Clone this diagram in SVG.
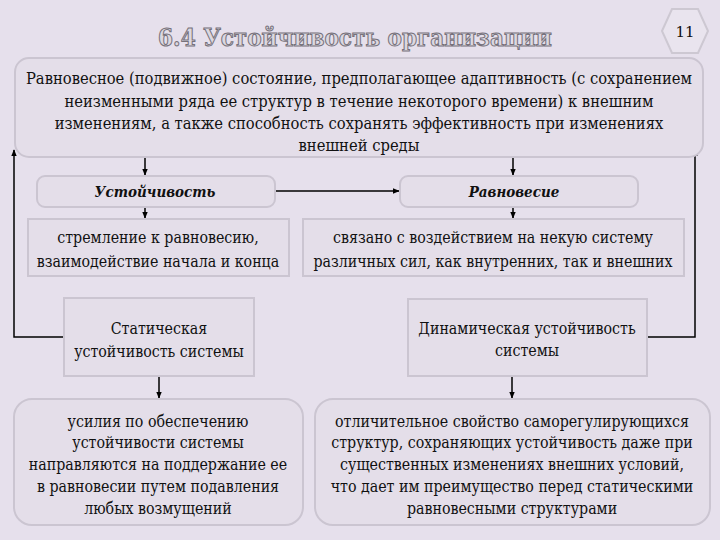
<svg xmlns="http://www.w3.org/2000/svg" width="720" height="540" viewBox="0 0 720 540">
<defs>
<marker id="ah" viewBox="0 0 10 10" refX="9" refY="5" markerWidth="7" markerHeight="7" orient="auto" markerUnits="userSpaceOnUse">
<path d="M0,1 L10,5 L0,9 z" fill="#000"/>
</marker>
<style>
.box{fill:#e4dee9;stroke:#cbc5d1;stroke-width:2}
.t{font-size:15.8px;fill:#111;text-anchor:middle}
.tl{font-size:16.4px;fill:#111;text-anchor:middle}
.h{font-size:15px;font-weight:bold;font-style:italic;fill:#111;text-anchor:middle}
.c{fill:none;stroke:#000;stroke-width:1.5}
</style>
</defs>
<rect width="720" height="540" fill="#e6e0ec"/>
<g id="title">
<text x="355" y="46" font-family="DejaVu Serif Condensed,DejaVu Serif,serif" font-size="24" font-weight="bold" fill="#dcd8e0" stroke="#76717b" stroke-width="1" text-anchor="middle">6.4 Устойчивость организации</text>
</g>
<g id="pagenum">
<polygon points="662,31 672,9 698,9 708,31 698,53 672,53" fill="#e9e4ee" stroke="#cdc8d2" stroke-width="2"/>
<text x="685" y="37" font-family="DejaVu Serif,serif" font-size="15" fill="#111" text-anchor="middle">11</text>
</g>
<g id="connectors">
<line class="c" x1="145" y1="157" x2="145" y2="175" marker-end="url(#ah)"/>
<line class="c" x1="513" y1="157" x2="513" y2="175" marker-end="url(#ah)"/>
<line class="c" x1="276" y1="191" x2="399" y2="191" marker-end="url(#ah)"/>
<line class="c" x1="145" y1="207" x2="145" y2="218" marker-end="url(#ah)"/>
<line class="c" x1="513" y1="207" x2="513" y2="218" marker-end="url(#ah)"/>
<polyline class="c" points="64,337 14,337 14,150" marker-end="url(#ah)"/>
<polyline class="c" points="647,337 695,337 695,150" marker-end="url(#ah)"/>
<line class="c" x1="159" y1="376" x2="159" y2="398" marker-end="url(#ah)"/>
<line class="c" x1="512" y1="376" x2="512" y2="398" marker-end="url(#ah)"/>
</g>
<g font-family="DejaVu Serif Condensed,DejaVu Serif,serif">
<g id="definition">
<rect class="box" x="15" y="58" width="688" height="99" rx="14"/>
<text class="tl" x="359" y="84">Равновесное (подвижное) состояние, предполагающее адаптивность (с сохранением</text>
<text class="tl" x="359" y="107">неизменными ряда ее структур в течение некоторого времени) к внешним</text>
<text class="tl" x="359" y="129">изменениям, а также способность сохранять эффективность при изменениях</text>
<text class="tl" x="359" y="151">внешней среды</text>
</g>
<g id="ustoichivost">
<rect class="box" x="37" y="176" width="238" height="31" rx="8"/>
<text class="h" x="155" y="197">Устойчивость</text>
</g>
<g id="ravnovesie">
<rect class="box" x="400" y="176" width="238" height="31" rx="8"/>
<text class="h" x="514" y="197">Равновесие</text>
</g>
<g id="ustoichivost-desc">
<rect class="box" x="28" y="219" width="261" height="57"/>
<text class="t" x="158" y="243">стремление к равновесию,</text>
<text class="t" x="158" y="267">взаимодействие начала и конца</text>
</g>
<g id="ravnovesie-desc">
<rect class="box" x="303" y="219" width="381" height="57"/>
<text class="t" x="493" y="243">связано с воздействием на некую систему</text>
<text class="t" x="493" y="267">различных сил, как внутренних, так и внешних</text>
</g>
<g id="static">
<rect class="box" x="64" y="298" width="190" height="78"/>
<text class="t" x="159" y="334">Статическая</text>
<text class="t" x="159" y="357">устойчивость системы</text>
</g>
<g id="dynamic">
<rect class="box" x="408" y="299" width="239" height="77"/>
<text class="t" x="527" y="334">Динамическая устойчивость</text>
<text class="t" x="527" y="356">системы</text>
</g>
<g id="static-desc">
<rect class="box" x="14" y="399" width="289" height="126" rx="18"/>
<text class="t" x="158" y="427">усилия по обеспечению</text>
<text class="t" x="158" y="448">устойчивости системы</text>
<text class="t" x="158" y="470">направляются на поддержание ее</text>
<text class="t" x="158" y="492">в равновесии путем подавления</text>
<text class="t" x="158" y="514">любых возмущений</text>
</g>
<g id="dynamic-desc">
<rect class="box" x="315" y="399" width="395" height="126" rx="18"/>
<text class="t" x="512" y="427">отличительное свойство саморегулирующихся</text>
<text class="t" x="512" y="448">структур, сохраняющих устойчивость даже при</text>
<text class="t" x="512" y="470">существенных изменениях внешних условий,</text>
<text class="t" x="512" y="492">что дает им преимущество перед статическими</text>
<text class="t" x="512" y="514">равновесными структурами</text>
</g>
</g>
</svg>
